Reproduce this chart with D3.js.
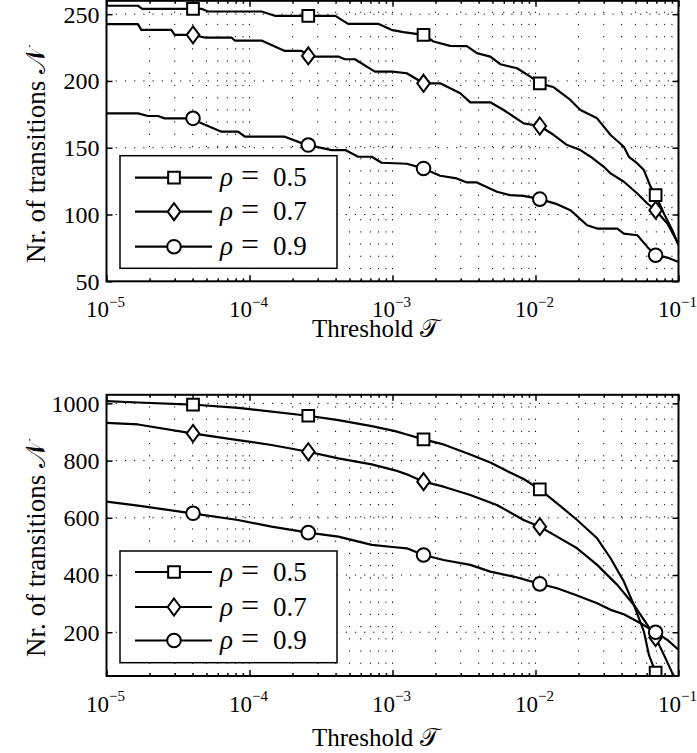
<!DOCTYPE html>
<html>
<head>
<meta charset="utf-8">
<script src="https://cdn.jsdelivr.net/npm/d3@7"></script>
<style>
  body { margin: 0; background: #fff; }
  svg { display: block; background: #fff; }
  text { font-family: "Liberation Serif", "Times New Roman", serif; fill: #000; }
  .tick line { stroke-width: 1.5px; }
</style>
</head>
<body>
<div id="vis"></div>
<script>
// threshold range, log10(T)
var T_MIN = 1e-5, T_MAX = 1e-1;
var xTickExp = [-5, -4, -3, -2, -1];
var topYTicks = [50, 100, 150, 200, 250];
var botYTicks = [200, 400, 600, 800, 1000];
var rhoLabels = ['0.5', '0.7', '0.9'];

// marker positions (log10 T), shared by all curves
var markerT = [-4.395, -3.589, -2.783, -1.97, -1.16];

// ---- top panel ----
var topT05 = [-5, -4.78, -4.75, -4.336, -4.29, -3.916, -3.823, -3.40, -3.31, -3.10, -3.0, -2.924, -2.783, -2.713, -2.597, -2.48, -2.41, -2.316, -2.246, -2.129, -2.036, -1.97, -1.872, -1.756, -1.686, -1.569, -1.475, -1.382, -1.347, -1.288, -1.242, -1.195, -1.16, -1.102, -1.043, -1.0];
var topN05 = [256.3, 256.3, 254, 254, 252, 252, 248.75, 248.75, 242.75, 242.75, 238, 236.5, 234.5, 229.5, 226.25, 226, 220.8, 218.25, 212.5, 209.5, 203.2, 198.25, 195.25, 185.75, 178.25, 172, 159.5, 150.75, 143.2, 138.25, 133.25, 120.75, 114.5, 100.75, 88.25, 77];
var topT07 = [-5, -4.78, -4.757, -4.547, -4.523, -4.40, -4.313, -4.126, -4.103, -3.916, -3.753, -3.636, -3.589, -3.543, -3.379, -3.333, -3.263, -3.123, -3.0, -2.9, -2.783, -2.667, -2.526, -2.456, -2.316, -2.223, -2.083, -1.97, -1.872, -1.779, -1.686, -1.615, -1.522, -1.475, -1.382, -1.288, -1.218, -1.16, -1.078, -1.0];
var topN07 = [242.5, 242.5, 238.25, 238.25, 234.5, 234.5, 232.5, 232.5, 230.25, 230.25, 222.5, 222.5, 218.75, 218.25, 218.25, 216.25, 216.25, 207, 207, 205.75, 198.25, 198.25, 190.75, 184, 184, 178.25, 168.25, 166.25, 159.5, 152, 148.25, 143.25, 135.75, 130.75, 124.5, 115.75, 108.25, 103.25, 93.25, 78];
var topT09 = [-5, -4.78, -4.71, -4.64, -4.594, -4.40, -4.336, -4.196, -4.08, -4.033, -3.753, -3.612, -3.589, -3.425, -3.33, -3.24, -3.146, -3.076, -2.9, -2.783, -2.667, -2.55, -2.48, -2.41, -2.27, -2.176, -2.083, -1.97, -1.849, -1.756, -1.639, -1.569, -1.428, -1.382, -1.288, -1.218, -1.16, -1.078, -1.0];
var topN09 = [175.75, 175.75, 173.75, 173.75, 172, 172, 168.25, 162, 162, 158.25, 158.25, 152.5, 152, 148.25, 148.25, 143.25, 143.25, 138.75, 138, 134.5, 129, 127, 124, 124, 117, 114.5, 114, 111.5, 107.75, 103.25, 92, 89.5, 89.5, 85.75, 84.5, 75.75, 69.5, 67.75, 64.5];
var topMark05 = [254, 248.75, 234.5, 198.25, 114.5];
var topMark07 = [234.5, 218.75, 198.25, 166.25, 103.25];
var topMark09 = [172, 152, 134.5, 111.5, 69.5];

// ---- bottom panel ----
var botT05 = [-5, -4.78, -4.40, -4.08, -3.589, -3.379, -3.145, -2.982, -2.9, -2.783, -2.643, -2.456, -2.316, -2.199, -2.083, -1.97, -1.849, -1.709, -1.569, -1.475, -1.382, -1.312, -1.242, -1.207, -1.16, -1.14];
var botN05 = [1008, 1003, 996, 984.6, 956.7, 941.6, 920.6, 903, 891.4, 874, 856.5, 821.6, 793.7, 763.6, 735.6, 699.4, 650.6, 592.4, 528.4, 458.6, 377.1, 295.4, 202.3, 120.9, 59.3, 47];
var botT07 = [-5, -4.78, -4.40, -4.08, -3.846, -3.589, -3.379, -3.145, -2.982, -2.9, -2.783, -2.643, -2.456, -2.27, -2.083, -1.97, -1.849, -1.709, -1.569, -1.428, -1.312, -1.218, -1.16, -1.102, -1.043, -1.03];
var botN07 = [932.2, 926.3, 895, 871.8, 854.4, 831, 807.8, 786.7, 766, 751.9, 726.3, 708.8, 679.8, 644.9, 592.4, 569, 534.2, 493.4, 435.4, 365.6, 295.4, 225.6, 181.6, 120.9, 57, 47];
var botT09 = [-5, -4.78, -4.40, -4.08, -3.846, -3.589, -3.379, -3.145, -2.982, -2.9, -2.783, -2.643, -2.456, -2.316, -2.153, -1.97, -1.849, -1.709, -1.569, -1.475, -1.382, -1.265, -1.16, -1.078, -1.0];
var botN09 = [656.4, 642.5, 615.7, 592.4, 569, 548.2, 534.2, 505.2, 497, 493.4, 470, 452.6, 435.4, 412, 394.6, 369, 353.8, 328.3, 301.4, 278.3, 263, 231.6, 199.9, 173.5, 138.7];
var botMark05 = [996, 956.7, 874, 699.4, 59.3];
var botMark07 = [895, 831, 726.3, 569, 181.6];
var botMark09 = [615.7, 548.2, 470, 369, 199.9];

var width = 697, height = 753;
var serif = '"Liberation Serif", "Times New Roman", serif';

var svg = d3.select('#vis').append('svg')
  .attr('width', width)
  .attr('height', height);

// marker shapes
function markerPath(shape) {
  if (shape === 'square') return d3.symbol().type(d3.symbolSquare).size(137)();
  if (shape === 'circle') return d3.symbol().type(d3.symbolCircle).size(145)();
  return 'M0,-8.5L6.3,0L0,8.5L-6.3,0Z';
}

function zip(a, b) {
  return a.map(function (d, i) { return [d, b[i]]; });
}

function isMajor(d) {
  var l = Math.log10(d);
  return Math.abs(l - Math.round(l)) < 1e-6;
}

function drawPanel(p) {
  var x = d3.scaleLog().domain([T_MIN, T_MAX]).range([p.left, p.right]);
  var y = d3.scaleLinear().domain(p.yDomain).range([p.bottom, p.top]);
  var g = svg.append('g');

  var allTicks = x.ticks();
  var majorTicks = xTickExp.map(function (e) { return Math.pow(10, e); });
  var minorTicks = allTicks.filter(function (d) { return !isMajor(d); });

  // dotted grid
  g.append('g').selectAll('line')
    .data(allTicks.filter(function (d) { return d > T_MIN * 1.001 && d < T_MAX * 0.999; }))
    .enter().append('line')
    .attr('x1', function (d) { return x(d); })
    .attr('x2', function (d) { return x(d); })
    .attr('y1', p.bottom).attr('y2', p.top)
    .attr('stroke', '#000').attr('stroke-width', 1)
    .attr('stroke-dasharray', '1.2,11');

  g.append('g').selectAll('line')
    .data(p.yTicks.filter(function (d) { return y(d) < p.bottom - 1 && y(d) > p.top + 1; }))
    .enter().append('line')
    .attr('x1', p.left).attr('x2', p.right)
    .attr('y1', function (d) { return y(d); })
    .attr('y2', function (d) { return y(d); })
    .attr('stroke', '#000').attr('stroke-width', 1)
    .attr('stroke-dasharray', '1.2,8');

  // axes (ticks inward)
  var gMinB = g.append('g').attr('transform', 'translate(0,' + p.bottom + ')')
    .call(d3.axisBottom(x).tickValues(minorTicks).tickSize(-3).tickFormat(''));
  var gMinT = g.append('g').attr('transform', 'translate(0,' + p.top + ')')
    .call(d3.axisTop(x).tickValues(minorTicks).tickSize(-3).tickFormat(''));
  var gMajT = g.append('g').attr('transform', 'translate(0,' + p.top + ')')
    .call(d3.axisTop(x).tickValues(majorTicks).tickSize(-6).tickFormat(''));
  var gMajB = g.append('g').attr('transform', 'translate(0,' + p.bottom + ')')
    .call(d3.axisBottom(x).tickValues(majorTicks).tickSize(-6).tickFormat(function () { return '10'; }));
  var gL = g.append('g').attr('transform', 'translate(' + p.left + ',0)')
    .call(d3.axisLeft(y).tickValues(p.yTicks).tickSize(-6).tickPadding(7).tickFormat(d3.format('d')));
  var gR = g.append('g').attr('transform', 'translate(' + p.right + ',0)')
    .call(d3.axisRight(y).tickValues(p.yTicks).tickSize(-6).tickFormat(''));

  [gMinB, gMinT, gMajT, gMajB, gL, gR].forEach(function (a) {
    a.attr('font-family', serif).attr('font-size', 24);
    a.select('.domain').remove();
  });

  // x labels: 10^-k
  gMajB.selectAll('.tick text')
    .attr('x', -21).attr('y', 36).attr('dy', 0)
    .attr('text-anchor', 'start')
    .attr('font-size', 23)
    .each(function (d) {
      d3.select(this).append('tspan')
        .attr('dy', -10.6)
        .attr('font-size', 15)
        .text('\u2212' + Math.abs(Math.round(Math.log10(d))));
    });
  gL.selectAll('.tick text').attr('dy', '0.33em');

  // curves
  var clipId = 'clip' + p.id;
  svg.append('clipPath').attr('id', clipId)
    .append('rect')
    .attr('x', p.left).attr('y', p.top)
    .attr('width', p.right - p.left).attr('height', p.bottom - p.top);

  var line = d3.line()
    .x(function (d) { return x(Math.pow(10, d[0])); })
    .y(function (d) { return y(d[1]); });

  var curves = g.append('g').attr('clip-path', 'url(#' + clipId + ')');
  p.series.forEach(function (s) {
    curves.append('path')
      .datum(zip(s.t, s.n))
      .attr('d', line)
      .attr('fill', 'none')
      .attr('stroke', '#000')
      .attr('stroke-width', 2.2)
      .attr('stroke-linejoin', 'round');
  });
  p.series.forEach(function (s) {
    curves.selectAll(null)
      .data(zip(markerT, s.marks))
      .enter().append('path')
      .attr('d', markerPath(s.shape))
      .attr('transform', function (d) {
        return 'translate(' + x(Math.pow(10, d[0])) + ',' + y(d[1]) + ')';
      })
      .attr('fill', '#fff')
      .attr('stroke', '#000')
      .attr('stroke-width', 2);
  });

  // box
  g.append('rect')
    .attr('x', p.left).attr('y', p.top)
    .attr('width', p.right - p.left).attr('height', p.bottom - p.top)
    .attr('fill', 'none').attr('stroke', '#000').attr('stroke-width', 2);

  // axis labels
  g.append('text')
    .attr('x', 312).attr('y', p.xLabelY)
    .attr('font-family', serif)
    .attr('font-size', 25)
    .text('Threshold \uD835\uDCAF');

  g.append('text')
    .attr('transform', 'translate(45,' + p.yLabelStart + ') rotate(-90)')
    .attr('font-family', serif)
    .attr('font-size', 27)
    .text('Nr. of transitions \uD835\uDCA9');

  // legend
  var lg = g.append('g').attr('transform', 'translate(120,' + p.legendTop + ')');
  lg.append('rect')
    .attr('width', 217).attr('height', p.legendH)
    .attr('fill', '#fff').attr('stroke', '#000').attr('stroke-width', 1.5);
  var rows = lg.selectAll('.entry')
    .data(p.series)
    .enter().append('g')
    .attr('class', 'entry')
    .attr('transform', function (d, i) { return 'translate(0,' + p.legendRows[i] + ')'; });
  rows.append('line')
    .attr('x1', 15).attr('x2', 92)
    .attr('stroke', '#000').attr('stroke-width', 2.2);
  rows.append('path')
    .attr('d', function (d) { return markerPath(d.shape); })
    .attr('transform', 'translate(54,0)')
    .attr('fill', '#fff').attr('stroke', '#000').attr('stroke-width', 2);
  var lt = rows.append('text').attr('y', 8.5)
    .attr('font-family', serif).attr('font-size', 27);
  lt.append('tspan').attr('x', 100).attr('font-style', 'italic').text('\u03C1');
  lt.append('tspan').attr('x', 121).attr('font-size', 32).text('=');
  lt.append('tspan').attr('x', 153).text(function (d, i) { return rhoLabels[i]; });
}

drawPanel({
  id: 'top', left: 106.5, right: 678.5, top: 0.8, bottom: 281.3,
  yDomain: [50, 260], yTicks: topYTicks,
  xLabelY: 337, yLabelStart: 263,
  legendTop: 155.7, legendH: 112.6, legendRows: [22, 56, 91],
  series: [
    { t: topT05, n: topN05, marks: topMark05, shape: 'square' },
    { t: topT07, n: topN07, marks: topMark07, shape: 'diamond' },
    { t: topT09, n: topN09, marks: topMark09, shape: 'circle' }
  ]
});

drawPanel({
  id: 'bot', left: 106.5, right: 678.5, top: 394.8, bottom: 676,
  yDomain: [47, 1030], yTicks: botYTicks,
  xLabelY: 746, yLabelStart: 657,
  legendTop: 551, legendH: 111.7, legendRows: [21, 56, 89.5],
  series: [
    { t: botT05, n: botN05, marks: botMark05, shape: 'square' },
    { t: botT07, n: botN07, marks: botMark07, shape: 'diamond' },
    { t: botT09, n: botN09, marks: botMark09, shape: 'circle' }
  ]
});
</script>
</body>
</html>
